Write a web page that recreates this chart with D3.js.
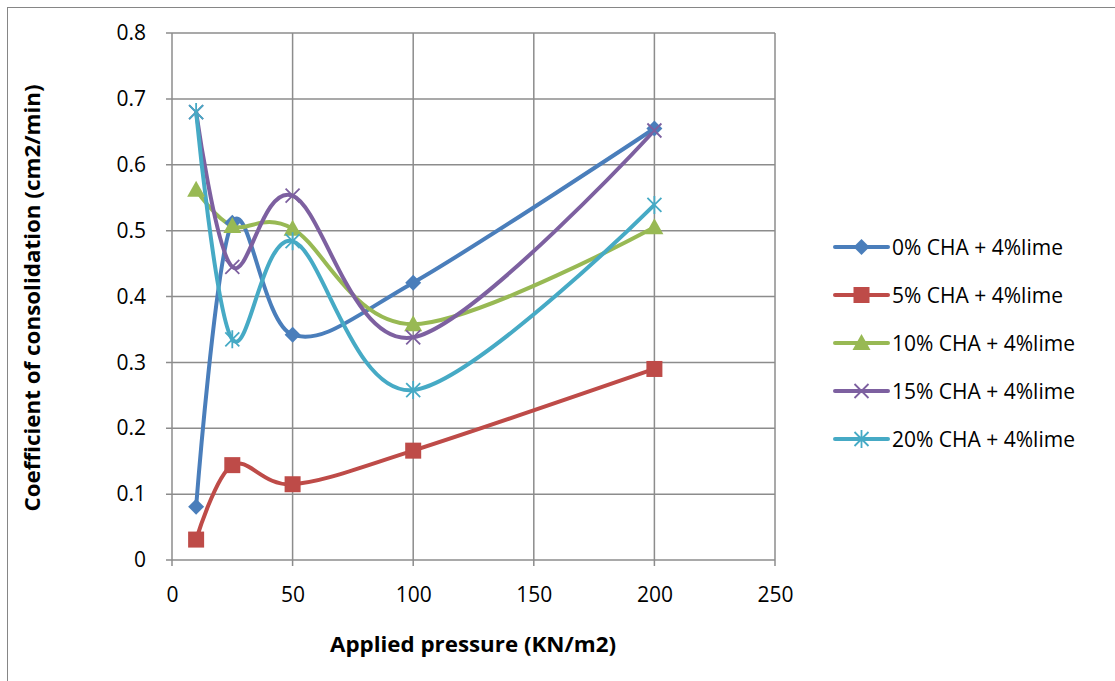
<!DOCTYPE html>
<html>
<head>
<meta charset="UTF-8">
<style>
  body { margin: 0; background: #fff; }
  svg text { font-family: "Open Sans", Lato, sans-serif; fill: #000; }
  .tick text { font-size: 21px; }
  .title { font-size: 21px; font-weight: bold; text-anchor: middle; }
  .legend text { font-size: 21px; }
</style>
</head>
<body>
<div id="chart"></div>
<script src="https://d3js.org/d3.v7.min.js"></script>
<script>
const pressures = [10, 25, 50, 100, 200];
const seriesNames = ["0% CHA + 4%lime", "5% CHA + 4%lime", "10% CHA + 4%lime", "15% CHA + 4%lime", "20% CHA + 4%lime"];
const cha0 = [0.081, 0.512, 0.342, 0.421, 0.655];
const cha5 = [0.031, 0.144, 0.115, 0.166, 0.290];
const cha10 = [0.562, 0.507, 0.503, 0.358, 0.505];
const cha15 = [0.680, 0.445, 0.553, 0.338, 0.652];
const cha20 = [0.680, 0.335, 0.484, 0.258, 0.539];
const xTicks = [0, 50, 100, 150, 200, 250];
const yTicks = [0, 0.1, 0.2, 0.3, 0.4, 0.5, 0.6, 0.7, 0.8];

const colors = ["#4a7ebb", "#be4b48", "#98b954", "#7d60a0", "#46aac5"];
const markers = ["diamond", "square", "triangle", "cross", "star"];
const allValues = [cha0, cha5, cha10, cha15, cha20];

const width = 1115, height = 681;
const svg = d3.select("#chart").append("svg").attr("width", width).attr("height", height);

// chart area border
svg.append("rect").attr("x", 7.5).attr("y", 7.5).attr("width", width + 10).attr("height", height + 10)
  .attr("fill", "none").attr("stroke", "#868686").attr("stroke-width", 1);

const x = d3.scaleLinear().domain([0, 250]).range([172, 775]);
const y = d3.scaleLinear().domain([0, 0.8]).range([560, 33]);

// gridlines
svg.append("g").selectAll("line").data(yTicks).join("line")
  .attr("x1", x(0) - 6).attr("x2", x(250)).attr("y1", d => y(d)).attr("y2", d => y(d))
  .attr("stroke", "#8c8c8c").attr("stroke-width", 1.5);
svg.append("g").selectAll("line").data(xTicks).join("line")
  .attr("y1", y(0.8)).attr("y2", y(0) + 6).attr("x1", d => x(d)).attr("x2", d => x(d))
  .attr("stroke", "#8c8c8c").attr("stroke-width", 1.5);

const yAxis = svg.append("g").attr("transform", `translate(${x(0)},0)`)
  .call(d3.axisLeft(y).tickValues(yTicks).tickSize(0).tickPadding(26).tickFormat(d => d === 0 ? "0" : d3.format(".1f")(d)));
yAxis.select(".domain").remove();
const xAxis = svg.append("g").attr("transform", `translate(0,${y(0)})`)
  .call(d3.axisBottom(x).tickValues(xTicks).tickSize(0).tickPadding(27));
xAxis.select(".domain").remove();

svg.append("text").attr("class", "title").attr("x", 473).attr("y", 652)
  .attr("textLength", 286).attr("lengthAdjust", "spacingAndGlyphs").text("Applied pressure (KN/m2)");
svg.append("text").attr("class", "title").attr("transform", "translate(40,298) rotate(-90)")
  .attr("textLength", 427).attr("lengthAdjust", "spacingAndGlyphs").text("Coefficient of consolidation (cm2/min)");

function drawMarker(g, type, color) {
  if (type === "diamond") {
    g.append("path").attr("d", "M0,-8L8,0L0,8L-8,0Z").attr("fill", color);
  } else if (type === "square") {
    g.append("rect").attr("x", -8).attr("y", -8).attr("width", 16).attr("height", 16).attr("fill", color);
  } else if (type === "triangle") {
    g.append("path").attr("d", "M0,-9L9,7L-9,7Z").attr("fill", color);
  } else if (type === "cross") {
    g.append("path").attr("d", "M-7,-7L7,7M-7,7L7,-7").attr("stroke", color).attr("stroke-width", 1.8);
  } else {
    g.append("path").attr("d", "M-7,-7L7,7M-7,7L7,-7M0,-9L0,9").attr("stroke", color).attr("stroke-width", 1.8);
  }
}

const line = d3.line().x(d => x(d[0])).y(d => y(d[1])).curve(d3.curveCardinal.tension(0));

allValues.forEach((vals, i) => {
  const pts = pressures.map((p, j) => [p, vals[j]]);
  svg.append("path").datum(pts).attr("d", line).attr("fill", "none")
    .attr("stroke", colors[i]).attr("stroke-width", 4).attr("stroke-linejoin", "round");
});
allValues.forEach((vals, i) => {
  pressures.forEach((p, j) => {
    const g = svg.append("g").attr("transform", `translate(${x(p)},${y(vals[j])})`);
    drawMarker(g, markers[i], colors[i]);
  });
});

// legend
const legend = svg.append("g").attr("class", "legend");
seriesNames.forEach((name, i) => {
  const ly = 247 + i * 48;
  legend.append("line").attr("x1", 835).attr("x2", 888).attr("y1", ly).attr("y2", ly)
    .attr("stroke", colors[i]).attr("stroke-width", 4).attr("stroke-linecap", "round");
  const g = legend.append("g").attr("transform", `translate(861.5,${ly})`);
  drawMarker(g, markers[i], colors[i]);
  legend.append("text").attr("x", 892).attr("y", ly + 8).text(name);
});
</script>
</body>
</html>
